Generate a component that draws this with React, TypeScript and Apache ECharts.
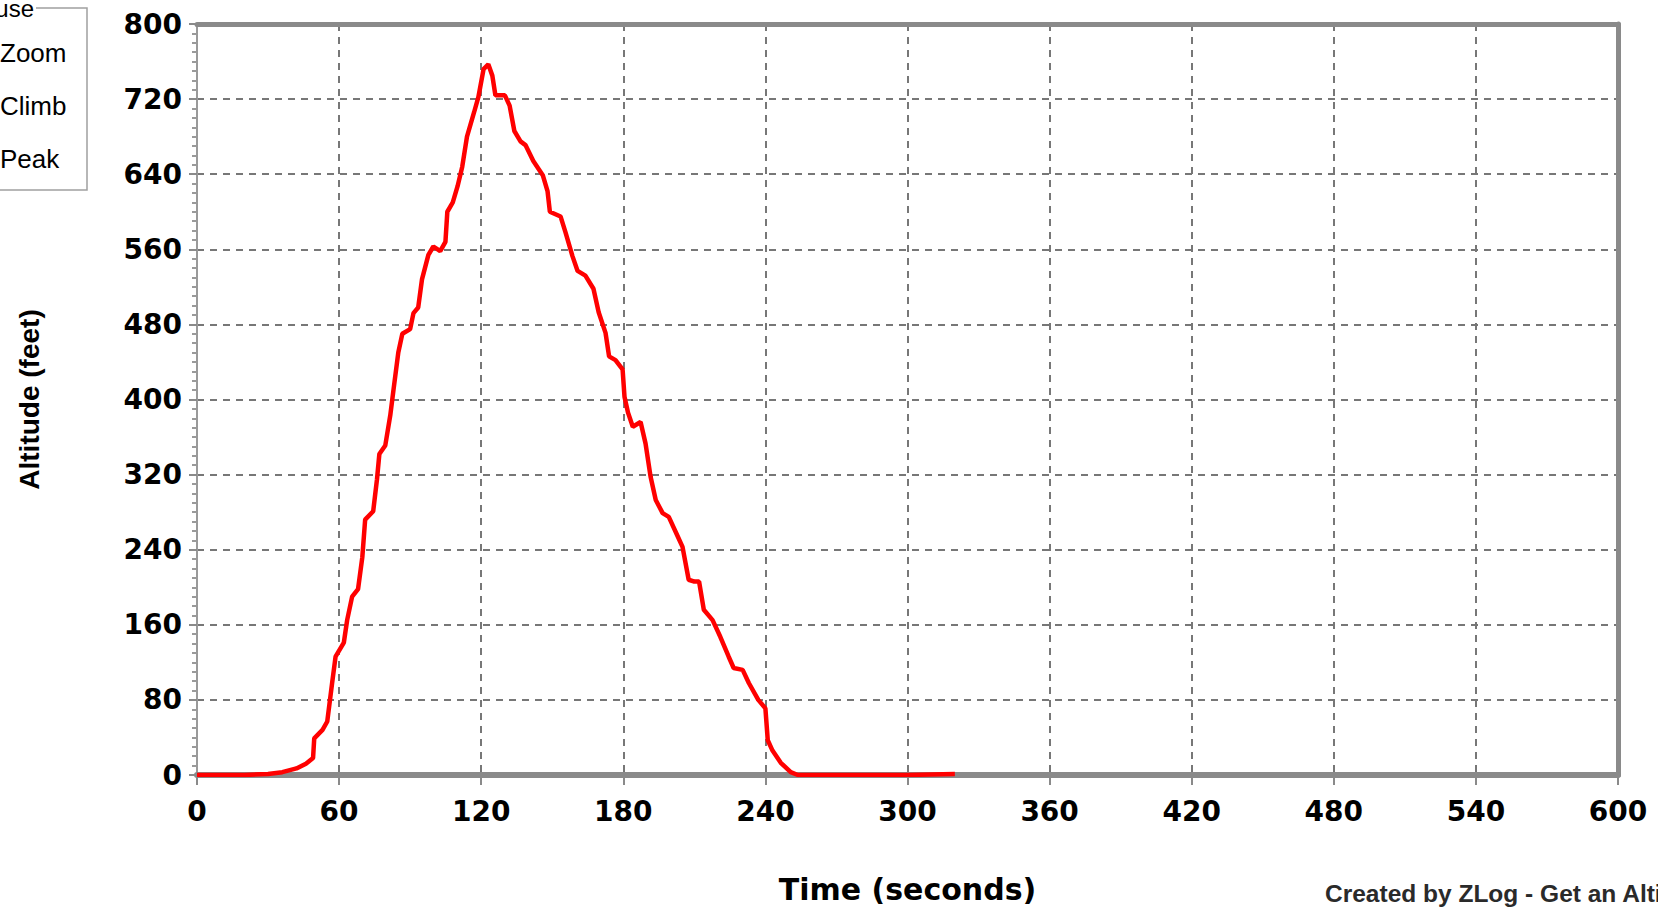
import React, { useEffect, useRef } from "react";
import * as echarts from "echarts";

// Flight time (seconds) and altitude (feet)
const timeSeconds = [
  0, 10, 20, 30, 36, 42, 46, 49, 49.5, 53, 55, 57, 58.5, 62, 63.4, 65.5, 68, 69.8, 71, 74.4,
  76, 77, 79.5, 81.6, 83, 85, 86.7, 90, 91.4, 93.4, 95, 97.7, 99.8, 102.7, 104.9, 105.7, 108,
  110, 112, 114, 117, 118.8, 121, 123, 124.7, 126, 130, 132, 134, 136.6, 138.7, 142, 146, 148,
  149, 153.5, 155.6, 158.5, 160.7, 164, 167.4, 169.6, 172.5, 174, 176.7, 179.7, 180.5, 182,
  184, 187.3, 189.4, 191.5, 193.7, 196.6, 199.2, 203, 205, 207.6, 210, 212, 214, 217.7, 221,
  224.5, 226.6, 230.4, 233, 237, 240, 241, 243, 246.5, 250.7, 253.7, 300, 320,
];
const altitudeFeet = [
  0, 0, 0, 1, 3, 7, 12, 18, 39, 48, 57, 97, 126, 141, 165, 190, 198, 232, 272, 281,
  315, 342, 351, 383, 411, 450, 470, 475, 492, 498, 528, 554, 563, 558, 568, 600, 610,
  627, 648, 680, 706, 722, 752, 757, 745, 724, 724, 713, 686, 675, 671, 654, 639, 622,
  600, 595, 578, 553, 537, 532, 518, 493, 471, 446, 442, 432, 403, 386,
  371, 376, 353, 318, 293, 279, 275, 254, 243, 208, 206, 206, 176, 165, 147,
  126, 114, 112, 98, 80, 71, 37, 26, 13, 3, 0, 0, 1,
];

const xAxisName = "Time (seconds)";
const yAxisName = "Altitude (feet)";
const legendTitle = "Mouse";
const legendItems = ["Zoom", "Climb", "Peak"];
const creditText = "Created by ZLog - Get an Altimeter";

export default function App() {
  const ref = useRef<HTMLDivElement>(null);

  useEffect(() => {
    if (!ref.current) return;
    const chart = echarts.init(ref.current, null, { renderer: "svg" });
    const labelFont = "DejaVu Sans, Liberation Sans, sans-serif";
    const gray = "#8a8a8a";
    const gridStyle = { color: "#777777", width: 2, type: [7, 6] };
    const data = timeSeconds.map((t, i) => [t, altitudeFeet[i]]);

    chart.setOption({
      animation: false,
      backgroundColor: "#ffffff",
      grid: { left: 197, right: 40, top: 24, bottom: 141, containLabel: false },
      xAxis: [
        {
          type: "value",
          min: 0,
          max: 600,
          interval: 60,
          position: "bottom",
          name: xAxisName,
          nameLocation: "middle",
          nameGap: 99,
          nameTextStyle: { fontFamily: labelFont, fontWeight: "bold", fontSize: 30, color: "#000" },
          axisLine: { show: true, onZero: false, lineStyle: { color: gray, width: 6 } },
          axisTick: { show: true, length: 10, lineStyle: { color: gray, width: 2 } },
          axisLabel: { margin: 22, fontFamily: labelFont, fontWeight: "bold", fontSize: 28, color: "#000" },
          splitLine: { show: true, lineStyle: gridStyle },
        },
        {
          type: "value",
          min: 0,
          max: 600,
          interval: 60,
          position: "top",
          axisLine: { show: true, onZero: false, lineStyle: { color: gray, width: 5 } },
          axisTick: { show: false },
          axisLabel: { show: false },
          splitLine: { show: false },
        },
      ],
      yAxis: [
        {
          type: "value",
          min: 0,
          max: 800,
          interval: 80,
          position: "left",
          name: yAxisName,
          nameLocation: "middle",
          nameGap: 154,
          nameRotate: 90,
          nameTextStyle: { fontFamily: "Liberation Sans, Arial, sans-serif", fontWeight: "bold", fontSize: 28, color: "#000" },
          axisLine: { show: true, onZero: false, lineStyle: { color: "#9a9a9a", width: 2 } },
          axisTick: { show: true, length: 8, lineStyle: { color: gray, width: 2 } },
          minorTick: { show: true, splitNumber: 8, length: 5, lineStyle: { color: "#9a9a9a", width: 2 } },
          axisLabel: { margin: 15, fontFamily: labelFont, fontWeight: "bold", fontSize: 28, color: "#000" },
          splitLine: { show: true, lineStyle: gridStyle },
        },
        {
          type: "value",
          min: 0,
          max: 800,
          interval: 80,
          position: "right",
          axisLine: { show: true, onZero: false, lineStyle: { color: gray, width: 5 } },
          axisTick: { show: false },
          axisLabel: { show: false },
          splitLine: { show: false },
        },
      ],
      series: [
        {
          type: "line",
          data,
          xAxisIndex: 0,
          yAxisIndex: 0,
          showSymbol: false,
          symbol: "none",
          lineStyle: { color: "#ff0000", width: 4.5 },
          z: 5,
        },
      ],
      graphic: [
        {
          type: "rect",
          shape: { x: -2, y: 8, width: 89, height: 182 },
          style: { fill: "#ffffff", stroke: "#a0a0a0", lineWidth: 1.5 },
        },
        {
          type: "rect",
          shape: { x: -2, y: 0, width: 38, height: 18 },
          style: { fill: "#ffffff" },
        },
        {
          type: "text",
          x: 34,
          y: 8,
          style: {
            text: legendTitle,
            fontFamily: "Liberation Sans, Arial, sans-serif",
            fontSize: 24,
            fill: "#000",
            align: "right",
            verticalAlign: "middle",
          },
        },
        ...legendItems.map((t, i) => ({
          type: "text",
          x: 0,
          y: 53 + i * 53,
          style: {
            text: t,
            fontFamily: "Liberation Sans, Arial, sans-serif",
            fontSize: 26,
            fill: "#000",
            align: "left",
            verticalAlign: "middle",
          },
        })),
        {
          type: "text",
          x: 1325,
          y: 893,
          style: {
            text: creditText,
            fontFamily: "Liberation Sans, Arial, sans-serif",
            fontWeight: "bold",
            fontSize: 24.5,
            fill: "#2a2a2a",
            align: "left",
            verticalAlign: "middle",
          },
        },
      ],
    });

    return () => chart.dispose();
  }, []);

  return (
    <div
      ref={ref}
      style={{ position: "absolute", left: 0, top: 0, width: 1658, height: 916, background: "#fff" }}
    />
  );
}
